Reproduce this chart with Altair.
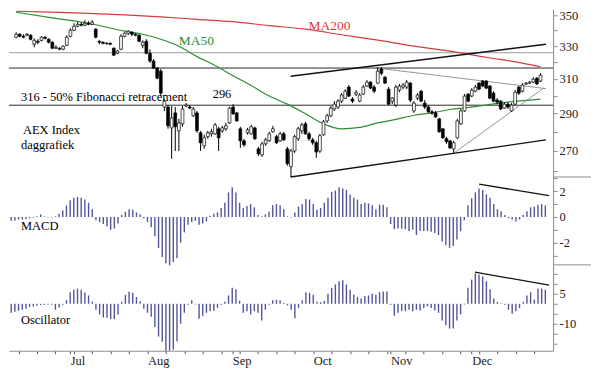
import altair as alt
import pandas as pd

# ---------------- data (trading-day index 0..145, Jun 9 - Dec 30 2011) -------------
open_ = [335.6,337.5,336.2,336.9,336.9,331.1,333.0,333.6,335.6,334.3,
         332.4,328.6,328.6,328.0,330.5,336.2,340.1,342.7,344.0,343.4,
         344.7,344.0,340.8,333.0,332.4,331.7,331.7,328.6,325.5,328.0,
         336.2,338.2,338.8,337.5,336.9,330.5,333.0,325.5,320.7,316.4,
         314.5,293.7,293.7,282.2,290.4,280.6,284.4,294.2,293.7,288.8,
         290.4,279.6,272.7,277.5,279.0,279.0,281.7,280.6,281.7,284.9,
         293.7,290.4,281.7,275.3,279.6,279.0,282.2,271.1,268.0,273.7,
         275.3,280.1,277.5,275.3,279.0,271.1,262.0,270.0,276.4,280.6,
         284.4,279.0,275.8,274.3,270.0,278.5,286.0,288.8,292.6,293.7,
         297.0,298.7,305.1,298.2,301.0,297.0,301.0,305.7,308.0,305.1,
         307.4,315.8,310.9,303.9,297.0,294.8,303.3,305.1,305.1,307.4,
         291.5,298.7,302.7,295.9,293.7,291.0,290.4,287.1,281.7,276.4,
         275.3,271.1,276.9,284.4,291.5,301.0,299.9,302.7,307.4,308.6,
         308.6,305.7,301.6,297.6,297.0,293.1,295.3,291.5,295.3,305.1,
         302.7,306.9,307.4,308.0,310.3,308.6]
high = [338.8,338.2,337.5,338.2,337.5,334.9,334.3,336.2,336.2,334.9,
        333.0,330.5,329.2,330.5,336.9,341.4,344.7,345.4,345.4,346.7,
        346.0,346.7,341.4,333.6,333.0,332.4,332.4,329.2,327.4,337.5,
        338.8,340.1,339.5,338.2,337.5,333.6,334.3,328.0,321.9,317.0,
        315.8,298.2,294.8,294.2,293.7,287.1,294.2,295.9,294.8,293.7,
        291.5,280.6,278.5,280.6,281.7,284.9,282.8,283.3,284.9,293.7,
        295.3,291.0,282.8,276.4,282.2,283.8,282.8,272.2,274.8,276.9,
        280.1,283.3,278.5,280.1,280.1,272.2,271.1,278.5,282.8,284.9,
        285.5,280.1,276.9,275.3,279.0,286.5,289.9,294.2,297.0,298.2,
        301.6,303.9,306.3,299.3,303.3,301.6,306.3,309.2,308.6,306.3,
        317.0,317.0,311.5,305.1,299.3,306.3,306.9,307.4,309.2,308.0,
        297.0,301.6,303.3,297.6,294.8,292.0,291.5,287.6,282.2,277.5,
        275.8,275.3,287.1,292.6,301.0,301.6,304.5,306.3,308.0,309.2,
        309.2,306.3,302.7,298.7,297.6,296.4,296.4,295.9,303.3,305.7,
        307.4,308.0,308.6,310.9,310.9,313.3]
low = [334.9,335.6,334.9,336.2,333.6,329.2,331.1,333.0,334.3,331.7,
       328.0,328.0,327.4,327.4,329.9,335.6,339.5,342.1,342.7,342.7,
       343.4,343.4,334.9,331.1,331.1,331.1,330.5,323.7,324.9,327.4,
       335.6,336.9,336.2,336.2,332.4,328.6,324.9,319.5,315.8,309.7,
       299.9,291.5,281.7,266.0,270.0,270.0,282.8,293.7,292.6,288.2,
       279.6,270.0,271.1,276.4,277.5,278.5,270.0,279.6,280.6,284.4,
       289.3,285.5,271.6,272.2,278.5,278.5,275.8,267.5,267.0,272.7,
       274.8,279.6,273.7,274.8,275.3,262.5,256.9,269.0,275.3,279.0,
       278.5,275.3,273.2,266.5,269.0,278.0,284.9,288.2,291.5,292.6,
       295.9,298.2,299.3,295.9,299.9,296.4,300.5,305.1,303.9,301.6,
       306.9,312.1,306.9,294.8,295.3,293.7,302.1,303.9,303.9,296.4,
       290.4,297.6,296.4,292.6,290.4,289.3,287.6,279.6,276.4,273.7,
       271.1,269.0,276.4,283.8,291.0,296.4,299.3,302.1,303.3,305.1,
       303.9,298.2,296.4,295.3,292.0,292.6,292.6,291.0,294.8,300.5,
       302.1,306.3,306.9,307.4,306.3,308.0]
close = [337.5,336.2,335.6,337.5,334.3,333.6,332.4,335.6,334.9,332.4,
         328.6,329.2,328.0,329.9,335.6,340.1,342.7,344.0,343.4,344.7,
         344.0,345.4,335.6,332.4,331.7,331.4,331.1,324.3,326.8,336.2,
         338.2,339.5,337.5,336.9,333.0,332.4,325.5,320.7,316.4,310.3,
         301.6,297.0,283.3,287.6,282.8,284.9,292.6,294.8,293.1,292.6,
         280.6,274.3,276.9,279.6,280.1,283.8,276.9,282.2,283.3,293.1,
         289.9,286.0,275.3,273.2,281.1,282.8,276.4,268.5,273.7,275.8,
         279.0,281.7,274.3,279.0,275.8,263.5,270.0,277.5,281.7,283.8,
         279.0,276.4,274.3,269.5,278.0,285.5,288.8,293.1,295.3,297.0,
         300.5,302.7,299.9,297.0,302.1,300.5,305.1,308.0,304.5,302.7,
         314.5,313.3,307.4,295.3,298.7,305.1,305.7,306.3,308.0,297.6,
         295.9,300.5,297.0,293.7,291.0,290.4,288.2,280.1,276.9,274.8,
         271.6,274.3,286.0,291.5,299.9,297.0,303.3,305.1,303.9,305.7,
         304.5,298.7,297.0,296.4,292.6,295.3,293.7,294.8,302.1,301.6,
         306.3,307.4,308.0,309.7,306.9,312.1]

macd = [-0.3,-0.3,-0.2,-0.2,-0.15,
        -0.1,-0.05,0.05,0.2,0.05,-0.05,-0.05,0.05,0.25,0.5,
        0.9,1.3,1.5,1.55,1.5,1.35,1.1,0.6,
        -0.25,-0.4,-0.55,-0.75,-1.0,-0.9,-0.5,
        0.15,0.4,0.6,0.55,0.35,0.2,
        -0.1,-0.4,-0.8,-1.5,-2.4,-3.1,-3.6,-3.75,-3.5,-3.2,-2.0,-1.2,
        -0.6,-0.4,-0.3,-0.6,-0.5,-0.35,
        0.1,0.25,0.35,0.7,1.1,1.9,2.3,1.9,1.1,
        0.7,0.85,1.0,0.75,0.15,
        0.05,0.2,0.4,
        0.9,1.0,0.9,0.6,0.05,-0.05,0.35,0.8,1.0,
        1.4,1.35,1.0,0.55,0.7,1.1,
        1.5,1.95,2.05,2.3,2.2,2.1,1.75,
        1.5,1.35,1.0,1.1,1.05,0.9,0.6,0.95,0.95,0.75,
        -0.55,-0.95,-0.9,-0.9,-0.95,-1.1,-1.0,-1.4,-1.1,-1.1,-1.1,-1.15,-1.25,
        -1.4,-1.9,-2.2,-2.4,-2.25,-1.75,-1.1,-0.25,
        0.9,1.45,1.9,2.2,2.1,1.75,1.5,1.0,0.6,0.45,
        0.15,-0.1,-0.2,-0.35,-0.2,0.15,0.45,0.75,0.8,0.95,1.0,0.9]

osc = [-4.5,-4.0,-3.5,-3.0,-2.5,
       -1.5,-1.3,-1.0,-0.6,-0.5,-0.3,-0.5,-3.0,-1.8,-0.5,
       1.8,5.8,7.0,7.6,7.0,5.8,4.2,1.0,
       -3.0,-5.3,-6.9,-7.0,-7.7,-7.7,-5.3,
       1.0,4.5,6.0,5.5,3.4,1.3,
       -2.5,-4.5,-6.5,-11.6,-16.4,-19.0,-23.5,-23.5,-23.0,-18.7,-10.0,-4.5,
       -0.5,1.8,-0.3,-7.5,-6.0,-4.5,
       -3.7,-3.5,-2.0,-0.5,1.0,4.2,8.1,7.3,1.5,
       -4.5,-3.7,-5.3,-3.7,-4.5,-8.4,-3.0,-0.5,
       1.8,2.0,1.8,0.5,-0.8,-3.0,-7.2,-2.0,1.8,
       5.8,5.5,4.5,1.0,0.8,1.5,5.0,8.0,9.7,11.3,11.8,9.7,7.0,4.5,3.4,2.6,3.9,
       4.2,5.0,4.5,5.8,6.1,6.1,
       -0.5,-6.0,-4.5,-3.7,-3.7,-3.0,-3.7,-3.0,-3.4,-2.1,-1.3,-2.1,-3.4,-4.5,
       -8.4,-10.8,-12.4,-12.4,-8.4,-5.3,-0.3,
       8.1,12.1,15.2,14.5,13.7,11.3,7.3,2.6,1.0,0.3,
       -0.5,-3.0,-5.0,-3.7,-2.1,1.0,4.2,5.8,2.0,7.7,7.7,7.0]

ma50_idx = [0,10,20,30,35,40,45,50,55,60,65,70,75,80,85,90,95,100,105,110,115,120,125,130,135,140,145]
ma50 = [352.0,348.3,344.7,339.5,337.5,334.3,329.9,323.4,318.0,311.8,306.0,299.9,295.3,289.9,
        284.4,281.7,282.5,284.9,286.8,289.1,290.4,292.3,293.4,294.8,296.2,297.3,298.2]
ma200_idx = [0,10,20,30,40,50,60,70,80,90,100,110,120,130,140,145]
ma200 = [352.7,352.1,351.3,350.2,348.9,347.3,345.7,343.1,340.8,337.2,333.7,329.9,326.8,323.0,319.4,317.2]

level_gray = [325.8]
level_black = [316.4, 294.7]

chan_line = ["top", "top", "bottom", "bottom"]
chan_i = [75.9, 146.5, 75.9, 146.5]
chan_v = [311.5, 331.1, 256.9, 275.8]
thin_line = ["resist", "resist", "support", "support"]
thin_i = [99.7, 146.5, 121.1, 145.9]
thin_v = [316.4, 304.2, 269.0, 304.5]
macd_tr_i = [127, 146]
macd_tr_v = [2.55, 1.65]
osc_tr_i = [125.9, 146]
osc_tr_v = [15.9, 9.3]

month_idx = [16, 37, 60, 82, 103, 125]
month_names = ["Jul", "Aug", "Sep", "Oct", "Nov", "Dec"]
week_idx = [2, 7, 12, 17, 22, 27, 32, 42, 47, 52, 57, 62, 67, 72, 77, 87, 92, 97, 102,
            107, 112, 117, 122, 127, 132, 137, 142]

price_ticks = [260, 270, 280, 290, 300, 310, 320, 330, 340, 350]
macd_ticks = [-3, -2, -1, 0, 1, 2, 3]
osc_ticks = [-20, -15, -10, -5, 0, 5, 10, 15]

# ---------------- frames ----------------
n = len(close)
cdf = pd.DataFrame({"i": list(range(n)), "open": open_, "high": high, "low": low, "close": close})
ind = pd.DataFrame({"i": list(range(n)), "macd": macd, "osc": osc})
m50 = pd.DataFrame({"i": ma50_idx, "v": ma50})
m200 = pd.DataFrame({"i": ma200_idx, "v": ma200})
chan = pd.DataFrame({"line": chan_line, "i": chan_i, "v": chan_v})
thin = pd.DataFrame({"line": thin_line, "i": thin_i, "v": thin_v})
mtr = pd.DataFrame({"i": macd_tr_i, "v": macd_tr_v})
otr = pd.DataFrame({"i": osc_tr_i, "v": osc_tr_v})
one = pd.DataFrame({"a": [0]})

# ---------------- style ----------------
W = 545
H_PRICE, H_MACD, H_OSC = 168, 88, 86
FONT = "Liberation Serif"
AXIS_GRAY = "#8c8c8c"
BAR_COL = "#55559a"

xs = alt.Scale(domain=[-0.6, 147.1], nice=False, zero=False)
x_none = alt.X("i:Q", scale=xs, axis=None)

month_expr = " : ".join(f"datum.value == {m} ? '{nm}'" for m, nm in zip(month_idx, month_names)) + " : ''"
x_axis = alt.Axis(orient="bottom", values=sorted(set(week_idx + month_idx)), labelExpr=month_expr,
                  tickSize=3, labelAlign="left", labelBaseline="top", labelPadding=1,
                  labelOverlap=False, labelFlush=False, title=None, domainColor=AXIS_GRAY,
                  tickColor="#555555")
x_bottom = alt.X("i:Q", scale=xs, axis=x_axis)

ps = alt.Scale(type="log", domain=[256.9, 354.0], nice=False, zero=False)
p_axis = alt.Axis(orient="right", values=price_ticks,
                  labelExpr="datum.value % 20 == 10 ? ('' + datum.value) : ''",
                  tickSize=4, labelPadding=2, title=None, labelOverlap=False, labelFlush=False)
ms = alt.Scale(domain=[-3.72, 3.1], nice=False, zero=False)
m_axis = alt.Axis(orient="right", values=macd_ticks,
                  labelExpr="(datum.value % 2 == 0 && datum.value != 0 || datum.value == 0) ? ('' + datum.value) : ''",
                  tickSize=4, labelPadding=2, title=None, labelOverlap=False, labelFlush=False)
os_ = alt.Scale(domain=[-23.5, 19.5], nice=False, zero=False)
o_axis = alt.Axis(orient="right", values=osc_ticks,
                  labelExpr="(datum.value == 5 || datum.value == -10) ? ('' + datum.value) : ''",
                  tickSize=4, labelPadding=2, title=None, labelOverlap=False, labelFlush=False)


def label(text, x, y, color="black", size=12.5):
    return alt.Chart(one).mark_text(text=text, align="left", baseline="alphabetic", font=FONT,
                                    fontSize=size, color=color).encode(x=alt.value(x), y=alt.value(y))


# ---------------- price panel ----------------
yP = lambda f: alt.Y(f, scale=ps, axis=p_axis)
gray_h = alt.Chart(pd.DataFrame({"lv": level_gray})).mark_rule(color="#9a9a9a", strokeWidth=1).encode(y=yP("lv:Q"))
black_h = alt.Chart(pd.DataFrame({"lv": level_black})).mark_rule(color="#2a2a2a", strokeWidth=1).encode(y=yP("lv:Q"))
ma200_l = alt.Chart(m200).mark_line(color="#d8393b", strokeWidth=1.2, interpolate="monotone").encode(x=x_none, y=yP("v:Q"))
ma50_l = alt.Chart(m50).mark_line(color="#2f8d35", strokeWidth=1.2, interpolate="monotone").encode(x=x_none, y=yP("v:Q"))
chan_l = alt.Chart(chan).mark_line(color="#111111", strokeWidth=1.4).encode(x=x_none, y=yP("v:Q"), detail="line:N")
thin_l = alt.Chart(thin).mark_line(color="#8a8a8a", strokeWidth=0.9).encode(x=x_none, y=yP("v:Q"), detail="line:N")
wick = alt.Chart(cdf).mark_rule(color="black", strokeWidth=1).encode(x=x_none, y=yP("low:Q"), y2="high:Q")
body = alt.Chart(cdf).mark_bar(size=2.8, stroke="black", strokeWidth=0.7).encode(
    x=x_none, y=yP("open:Q"), y2="close:Q",
    fill=alt.condition(alt.datum.close >= alt.datum.open, alt.value("white"), alt.value("black")))

price = alt.layer(
    gray_h, black_h, ma200_l, ma50_l, chan_l, thin_l, wick, body,
    label("MA200", 300, 21, color="#d8393b", size=13.5),
    label("MA50", 170, 36, color="#2f8d35", size=13.5),
    label("316 - 50% Fibonacci retracement", 12, 92),
    label("296", 204, 89),
    label("AEX Index", 14, 125),
    label("daggrafiek", 12, 140),
).properties(width=W, height=H_PRICE)

# ---------------- MACD panel ----------------
sep = lambda: alt.Chart(one).mark_rule(color=AXIS_GRAY, strokeWidth=1).encode(
    x=alt.value(W), x2=alt.value(W + 38), y=alt.value(0))
macd_bars = alt.Chart(ind).mark_rule(color=BAR_COL, strokeWidth=1.4).encode(
    x=x_none, y=alt.Y("macd:Q", scale=ms, axis=m_axis), y2=alt.datum(0))
macd_tr = alt.Chart(mtr).mark_line(color="#111111", strokeWidth=1.3).encode(
    x=x_none, y=alt.Y("v:Q", scale=ms, axis=m_axis))
macd_panel = alt.layer(macd_bars, macd_tr, sep(), label("MACD", 12, 53)).properties(width=W, height=H_MACD)

# ---------------- Oscillator panel ----------------
osc_bars = alt.Chart(ind).mark_rule(color=BAR_COL, strokeWidth=1.4).encode(
    x=x_bottom, y=alt.Y("osc:Q", scale=os_, axis=o_axis), y2=alt.datum(0))
osc_tr = alt.Chart(otr).mark_line(color="#111111", strokeWidth=1.3).encode(
    x=x_bottom, y=alt.Y("v:Q", scale=os_, axis=o_axis))
osc_panel = alt.layer(osc_bars, osc_tr, sep(), label("Oscillator", 12, 59)).properties(width=W, height=H_OSC)

chart = alt.vconcat(price, macd_panel, osc_panel, spacing=0, bounds="flush").properties(
    padding={"left": 0, "top": 0, "right": 0, "bottom": 0}, background="white"
).configure_view(stroke=None).configure_axis(
    labelFont=FONT, labelFontSize=12.5, labelColor="#222222", domainColor=AXIS_GRAY,
    tickColor=AXIS_GRAY, grid=False
)

chart.save("out.html", embed_options={"renderer": "svg", "actions": False})
